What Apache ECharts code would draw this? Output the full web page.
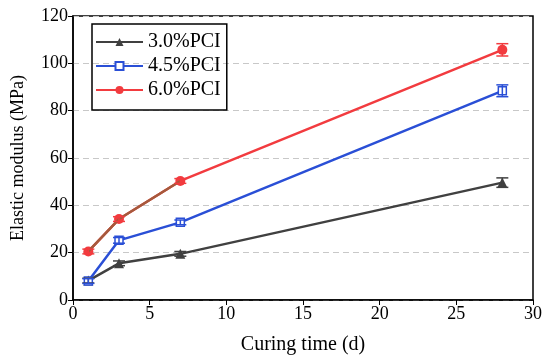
<!DOCTYPE html>
<html><head><meta charset="utf-8">
<script src="https://cdn.jsdelivr.net/npm/echarts@6/dist/echarts.min.js"></script>
<style>html,body{margin:0;padding:0;background:#fff}#c{width:550px;height:362px}</style>
</head><body><div id="c"></div>
<script>
const days = [1, 3, 7, 28];
const pci30 = [8.2, 15.5, 19.5, 49.6];
const pci45 = [8.0, 25.2, 32.8, 88.4];
const pci60 = [20.5, 34.2, 50.3, 105.7];
const err30 = [1.0, 1.0, 1.0, 2.0];
const err45 = [1.0, 1.2, 1.0, 2.5];
const err60 = [1.0, 1.0, 1.0, 2.6];
const names = ['3.0%PCI', '4.5%PCI', '6.0%PCI'];
const colors = ['#404040', '#2a4fd6', '#f23b3f'];
const yTicks = [0, 20, 40, 60, 80, 100, 120];

const font = 'Liberation Serif, Times New Roman, serif';
function pts(v){ return days.map((d,i)=>[d, v[i]]); }
function errData(v,e){ return days.map((d,i)=>[d, v[i]-e[i], v[i]+e[i]]); }
function errSeries(v,e,color){
  return {type:'custom', data: errData(v,e), z:5, silent:true,
    renderItem(params, api){
      const x = api.value(0);
      const lo = api.coord([x, api.value(1)]);
      const hi = api.coord([x, api.value(2)]);
      const w = 6;
      const st = {stroke: color, lineWidth: 1.5};
      return {type:'group', children:[
        {type:'line', shape:{x1:lo[0], y1:lo[1], x2:hi[0], y2:hi[1]}, style:st},
        {type:'line', shape:{x1:lo[0]-w, y1:lo[1], x2:lo[0]+w, y2:lo[1]}, style:st},
        {type:'line', shape:{x1:hi[0]-w, y1:hi[1], x2:hi[0]+w, y2:hi[1]}, style:st}
      ]};
    }};
}
const chart = echarts.init(document.getElementById('c'));
chart.setOption({
  animation:false,
  grid:{left:73, right:17, top:16, bottom:62, show:true, borderColor:'#000', borderWidth:1.5},
  legend:{
    left:92, top:24, orient:'vertical', itemGap:4, itemWidth:47, itemHeight:10,
    padding:[8,6,10,3], borderColor:'#000', borderWidth:1.5,
    textStyle:{fontFamily:font, fontSize:20, color:'#000'},
    data: names
  },
  xAxis:{type:'value', min:0, max:30, interval:5,
    name:'Curing time (d)', nameLocation:'middle', nameGap:35,
    nameTextStyle:{fontFamily:font, fontSize:20, color:'#000'},
    axisLine:{lineStyle:{color:'#000', width:1.5}},
    axisTick:{lineStyle:{color:'#000'}, length:5},
    axisLabel:{fontFamily:font, fontSize:18, color:'#000', margin:5},
    splitLine:{show:false}},
  yAxis:{type:'value', min:0, max:120, interval:20,
    name:'Elastic modulus (MPa)', nameLocation:'middle', nameGap:46,
    nameTextStyle:{fontFamily:font, fontSize:18, color:'#000'},
    axisLine:{show:true, lineStyle:{color:'#000', width:1.5}},
    axisTick:{show:true, lineStyle:{color:'#000'}, length:5},
    axisLabel:{fontFamily:font, fontSize:18, color:'#000', margin:5,
      formatter:v=> yTicks.includes(v) ? String(v) : ''},
    splitLine:{show:true, lineStyle:{color:'#c8c8c8', type:[6,4], width:1}}},
  series:[
    {name:names[0], type:'line', data:pts(pci30), color:colors[0], symbol:'triangle', symbolSize:10,
      lineStyle:{width:2.5, color:colors[0]}, itemStyle:{color:colors[0]}, z:3},
    {name:names[1], type:'line', data:pts(pci45), color:colors[1], symbol:'rect', symbolSize:8,
      lineStyle:{width:2.5, color:colors[1]}, itemStyle:{color:'#fff', borderColor:colors[1], borderWidth:1.5}, z:3},
    {name:names[2], type:'line', data:pts(pci60), color:colors[2], symbol:'circle', symbolSize:10,
      lineStyle:{width:2.5, color:colors[2]}, itemStyle:{color:colors[2]}, z:3},
    {type:'line', data:pts(pci60).slice(0,3), symbol:'none', silent:true,
      lineStyle:{width:2.5, color:'#a55a3c'}, z:4},
    errSeries(pci30, err30, colors[0]),
    errSeries(pci45, err45, colors[1]),
    errSeries(pci60, err60, colors[2])
  ]
});
</script></body></html>
